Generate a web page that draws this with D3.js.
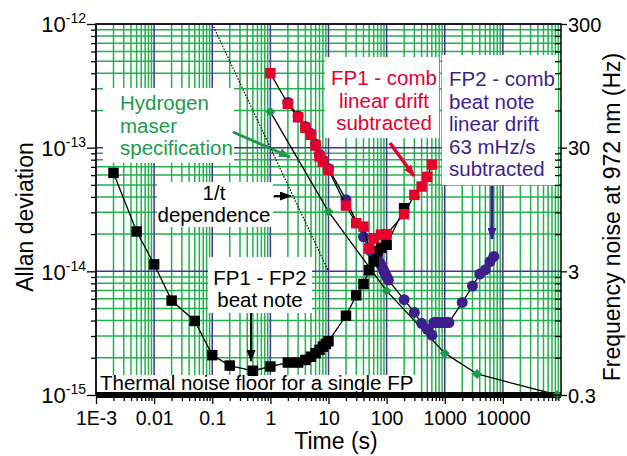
<!DOCTYPE html>
<html lang="en">
<head>
<meta charset="UTF-8">
<title>Allan deviation</title>
<script src="https://d3js.org/d3.v7.min.js"></script>
<style>
  body { margin: 0; background: #fff; }
  svg { display: block; font-family: "Liberation Sans", Arial, sans-serif; }
</style>
</head>
<body>
<svg width="627" height="456"></svg>
<script>
// FP1 - FP2 beat note (black squares)
var beatTau  = [0.002, 0.005, 0.01, 0.02, 0.05, 0.1, 0.2, 0.5, 1, 2, 3, 4, 5, 6, 7, 8, 9, 10, 20, 30, 40, 50, 60, 70, 80, 100, 200];
var beatAdev = [6.25e-14, 2.1e-14, 1.14e-14, 5.8e-15, 3.97e-15, 2.1e-15, 1.73e-15, 1.57e-15, 1.7e-15, 1.83e-15, 1.83e-15,
                1.92e-15, 2.04e-15, 2.18e-15, 2.32e-15, 2.46e-15, 2.59e-15, 2.72e-15, 4.38e-15, 6.4e-15, 7.9e-15,
                1.02e-14, 1.2e-14, 1.45e-14, 1.55e-14, 1.64e-14, 3.24e-14];

// FP1 - comb (red squares)
var fp1Tau  = [1, 2, 3, 4, 5, 6, 7, 8, 10, 20, 30, 40, 50, 60, 80, 100, 200, 300, 400, 500, 600];
var fp1Adev = [4.0e-13, 2.26e-13, 1.76e-13, 1.45e-13, 1.27e-13, 1.04e-13, 8.5e-14, 7.7e-14, 6.6e-14, 3.4e-14, 2.45e-14,
               2.3e-14, 1.53e-14, 1.85e-14, 1.98e-14, 2.0e-14, 2.9e-14, 4.15e-14, 4.85e-14, 5.8e-14, 7.3e-14];

// FP2 - comb (purple circles)
var fp2Tau  = [2, 3, 4, 5, 6, 7, 8, 10, 20, 40, 50, 55, 60, 67, 72, 77, 82, 88, 92, 97, 102, 107,
               200, 300, 400, 500, 600, 650, 700, 750, 800, 900, 1000, 1100, 1180, 2000, 3000, 4000, 5000, 6000, 7000];
var fp2Adev = [2.32e-13, 1.8e-13, 1.48e-13, 1.3e-13, 1.07e-13, 8.8e-14, 7.9e-14, 6.8e-14, 3.8e-14, 1.9e-14, 1.5e-14,
               1.44e-14, 1.36e-14, 1.28e-14, 1.22e-14, 1.16e-14, 1.1e-14, 1.03e-14, 9.8e-15, 9.3e-15, 8.9e-15, 8.5e-15,
               5.9e-15, 4.65e-15, 3.8e-15, 3.4e-15, 3.05e-15, 3.85e-15, 3.85e-15, 3.85e-15, 3.85e-15, 3.85e-15, 3.85e-15,
               3.85e-15, 3.85e-15, 5.6e-15, 7.6e-15, 9.5e-15, 1.03e-14, 1.2e-14, 1.32e-14];

// hydrogen maser specification (green diamonds)
var maserTau  = [1, 10, 100, 1000, 3600, 86400];
var maserAdev = [1.95e-13, 3.04e-14, 6.95e-15, 2.18e-15, 1.48e-15, 1.0e-15];

// 1/t guide line
var guideTau  = [0.1, 10];
var guideAdev = [1e-12, 1e-14];

var thermalFloor = 1e-15;

// axis ticks
var xMajor = [1e-3, 1e-2, 1e-1, 1, 10, 100, 1000, 10000];
var xLabels = ["1E-3", "0.01", "0.1", "1", "10", "100", "1000", "10000"];
var yMajor = [1e-15, 1e-14, 1e-13, 1e-12];
var yExponents = ["-15", "-14", "-13", "-12"];
var rightMajor = [0.3, 3, 30, 300];
var rightLabels = ["0.3", "3", "30", "300"];

var green = "#22b14c", violet = "#4b2f96", red = "#e5002d", purple = "#3d1f8c", textGreen = "#1e9a4c";

var plotL = 96, plotR = 561, plotT = 24, plotB = 395;

var x = d3.scaleLog().domain([1e-3, 1e5]).range([plotL, plotR]);
var y = d3.scaleLog().domain([1e-15, 1e-12]).range([plotB, plotT]);
var yRight = d3.scaleLog().domain([0.3, 300]).range([plotB, plotT]);

var svg = d3.select("svg");

function isMajor(v) {
    var l = Math.log10(v);
    return Math.abs(l - Math.round(l)) < 1e-6;
}

// arrow heads
var defs = svg.append("defs");
[["black", "#000"], ["green", textGreen], ["red", red], ["purple", purple]].forEach(function(c) {
    defs.append("marker")
        .attr("id", "arrow-" + c[0])
        .attr("viewBox", "0 0 12 9")
        .attr("refX", 11).attr("refY", 4.5)
        .attr("markerWidth", 12).attr("markerHeight", 9)
        .attr("markerUnits", "userSpaceOnUse")
        .attr("orient", "auto")
        .append("path")
        .attr("d", "M0,0L12,4.5L0,9z")
        .attr("fill", c[1]);
});

// grid
var grid = svg.append("g");
var xMinor = x.ticks().filter(function(d) { return !isMajor(d); });
var yMinor = y.ticks().filter(function(d) { return !isMajor(d); });

grid.selectAll("line.vmin").data(xMinor).join("line")
    .attr("x1", d => x(d)).attr("x2", d => x(d)).attr("y1", plotT).attr("y2", plotB)
    .attr("stroke", green).attr("stroke-width", 1.5);
grid.selectAll("line.hmin").data(yMinor).join("line")
    .attr("x1", plotL).attr("x2", plotR).attr("y1", d => y(d)).attr("y2", d => y(d))
    .attr("stroke", green).attr("stroke-width", 1.5);
grid.selectAll("line.vmaj").data(xMajor).join("line")
    .attr("x1", d => x(d)).attr("x2", d => x(d)).attr("y1", plotT).attr("y2", plotB)
    .attr("stroke", violet).attr("stroke-width", 1.5);
grid.selectAll("line.hmaj").data(yMajor).join("line")
    .attr("x1", plotL).attr("x2", plotR).attr("y1", d => y(d)).attr("y2", d => y(d))
    .attr("stroke", violet).attr("stroke-width", 1.5);

// annotation boxes
function note(box, lines, opts) {
    var g = svg.append("g");
    g.append("rect").attr("x", box[0]).attr("y", box[1])
        .attr("width", box[2] - box[0]).attr("height", box[3] - box[1]).attr("fill", "#fff");
    g.selectAll("text").data(lines).join("text")
        .attr("x", opts.x).attr("y", (d, i) => opts.y + i * opts.step)
        .attr("text-anchor", opts.anchor || "start")
        .attr("font-size", opts.size || 20.5)
        .attr("fill", opts.color)
        .text(d => d);
}

function arrow(x1, y1, x2, y2, color, name, w) {
    svg.append("line").attr("x1", x1).attr("y1", y1).attr("x2", x2).attr("y2", y2)
        .attr("stroke", color).attr("stroke-width", w)
        .attr("marker-end", "url(#arrow-" + name + ")");
}

note([103, 88, 234, 163], ["Hydrogen", "maser", "specification"], {x: 120, y: 110, step: 22.5, color: textGreen});
note([157, 182, 273, 227], ["1/t", "dependence"], {x: 214, y: 200, step: 21.5, color: "#000", anchor: "middle"});
note([208, 257, 312, 313], ["FP1 - FP2", "beat note"], {x: 260, y: 285, step: 21.5, color: "#000", anchor: "middle"});
note([325, 57, 439, 138], ["FP1 - comb", "linear drift", "subtracted"], {x: 384, y: 85, step: 22.5, color: red, anchor: "middle"});
note([442, 55, 558, 185], ["FP2 - comb", "beat note", "linear drift", "63 mHz/s", "subtracted"], {x: 449, y: 86, step: 22.6, color: purple});
note([98, 375, 418, 392], ["Thermal noise floor for a single FP"], {x: 100, y: 390, step: 0, color: "#000"});

arrow(233, 132, 290, 157, textGreen, "green", 3);
arrow(274, 196, 291, 196, "#000", "black", 2);
arrow(251, 313, 251, 361, "#000", "black", 2);
arrow(390, 143, 414, 176, red, "red", 3.5);
arrow(492, 186, 492, 239, purple, "purple", 3);

// thermal noise floor
svg.append("line")
    .attr("x1", plotL).attr("x2", plotR)
    .attr("y1", y(thermalFloor)).attr("y2", y(thermalFloor))
    .attr("stroke", "#000").attr("stroke-width", 6);

// series
var line = d3.line().x(d => x(d[0])).y(d => y(d[1]));

svg.append("path").datum(d3.zip(guideTau, guideAdev))
    .attr("d", line).attr("fill", "none").attr("stroke", "#000")
    .attr("stroke-width", 1.2).attr("stroke-dasharray", "1.5,1.5");

function series(tau, adev, symbol, color, rotate) {
    var pts = d3.zip(tau, adev);
    var g = svg.append("g");
    g.append("path").datum(pts).attr("d", line)
        .attr("fill", "none").attr("stroke", "#000").attr("stroke-width", 1.3);
    g.selectAll("path.pt").data(pts).join("path")
        .attr("class", "pt")
        .attr("d", symbol)
        .attr("transform", d => "translate(" + x(d[0]) + "," + y(d[1]) + ")" + (rotate ? " rotate(45)" : ""))
        .attr("fill", color);
}

series(maserTau, maserAdev, d3.symbol().type(d3.symbolSquare).size(50)(), "#1f9a4d", true);
series(fp2Tau, fp2Adev, d3.symbol().type(d3.symbolCircle).size(95)(), purple, false);
series(beatTau, beatAdev, d3.symbol().type(d3.symbolSquare).size(110)(), "#000", false);
series(fp1Tau, fp1Adev, d3.symbol().type(d3.symbolSquare).size(110)(), red, false);

// frame
svg.append("rect").attr("x", plotL).attr("y", plotT)
    .attr("width", plotR - plotL).attr("height", plotB - plotT)
    .attr("fill", "none").attr("stroke", "#000").attr("stroke-width", 1.5);

// bottom axis
svg.append("g").attr("transform", "translate(0," + plotB + ")")
    .call(d3.axisBottom(x).tickValues(xMinor).tickSize(6).tickSizeOuter(0).tickFormat(() => ""));
var xAxis = svg.append("g").attr("transform", "translate(0," + plotB + ")")
    .call(d3.axisBottom(x).tickValues(xMajor).tickSize(9).tickSizeOuter(0).tickPadding(7)
        .tickFormat((d, i) => xLabels[i]));
xAxis.selectAll("text").attr("font-size", 19.5).attr("font-family", null).attr("fill", "#000");

// left axis
svg.append("g").attr("transform", "translate(" + plotL + ",0)")
    .call(d3.axisLeft(y).tickValues(yMinor).tickSize(5).tickSizeOuter(0).tickFormat(() => ""));
var yAxis = svg.append("g").attr("transform", "translate(" + plotL + ",0)")
    .call(d3.axisLeft(y).tickValues(yMajor).tickSize(9).tickSizeOuter(0).tickFormat(() => ""));
yAxis.selectAll(".tick text").each(function(d, i) {
    var t = d3.select(this).attr("x", -10).attr("dy", "0.36em")
        .attr("font-size", 22).attr("font-family", null).attr("fill", "#000");
    t.append("tspan").text("10");
    t.append("tspan").attr("dy", -9).attr("font-size", 14).text(yExponents[i]);
});

// right axis
svg.append("g").attr("transform", "translate(" + plotR + ",0)")
    .call(d3.axisRight(y).tickValues(yMinor).tickSize(-6).tickSizeOuter(0).tickFormat(() => ""));
var rAxis = svg.append("g").attr("transform", "translate(" + plotR + ",0)")
    .call(d3.axisRight(yRight).tickValues(rightMajor).tickSize(6).tickSizeOuter(0).tickPadding(1)
        .tickFormat((d, i) => rightLabels[i]));
rAxis.selectAll("text").attr("font-size", 20).attr("font-family", null).attr("fill", "#000").attr("dy", "0.36em");

svg.selectAll(".domain").remove();
svg.selectAll(".tick line").attr("stroke-width", 1.3);

// axis titles
svg.append("text").attr("transform", "translate(33,217) rotate(-90)")
    .attr("text-anchor", "middle").attr("font-size", 23).text("Allan deviation");
svg.append("text").attr("x", 336).attr("y", 449)
    .attr("text-anchor", "middle").attr("font-size", 23).text("Time (s)");
svg.append("text").attr("transform", "translate(620,217) rotate(-90)")
    .attr("text-anchor", "middle").attr("font-size", 23).text("Frequency noise at 972 nm (Hz)");
</script>
</body>
</html>
